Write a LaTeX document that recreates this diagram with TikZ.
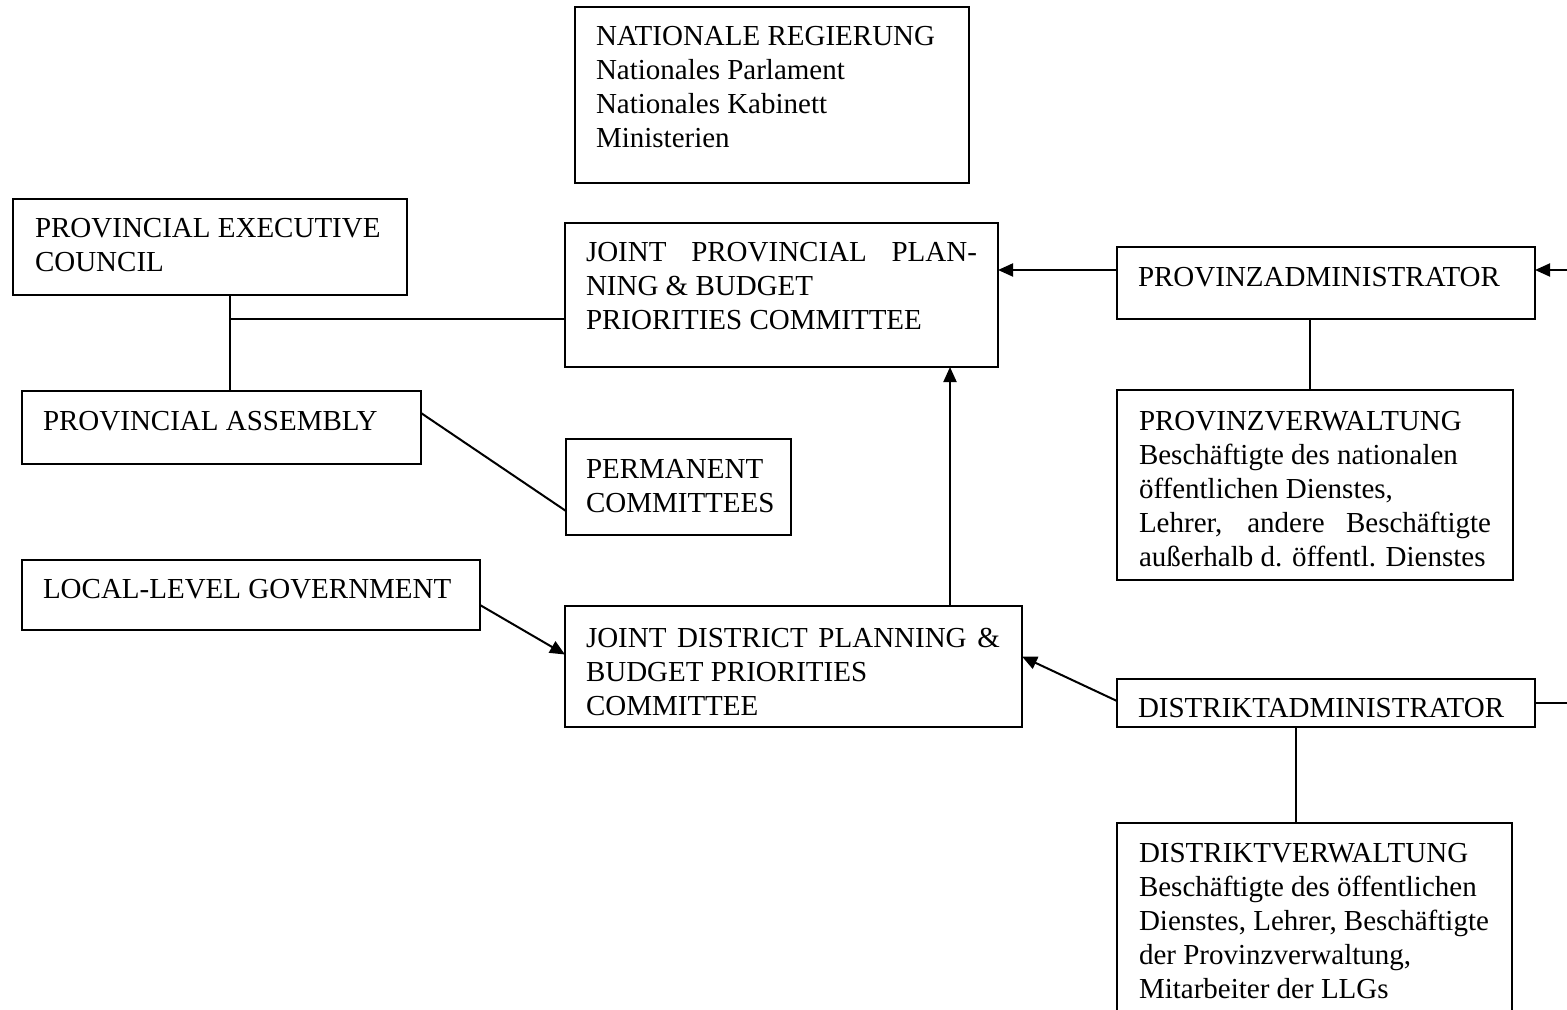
\documentclass[tikz,border=0pt]{standalone}
\usepackage{fontspec}
\setmainfont{Liberation Serif}
\usetikzlibrary{arrows.meta,calc}
\begin{document}
\begin{tikzpicture}[x=0.5pt,y=-0.5pt,
  box/.style={draw, line width=1pt, rectangle, inner sep=0pt, outer sep=0pt, anchor=north west},
  txt/.style={anchor=base west, inner sep=0pt, outer sep=0pt, font=\fontsize{14.5pt}{17pt}\selectfont},
  conn/.style={line width=1pt},
  arr/.style={line width=1pt, -{Triangle[length=7.5pt,width=6.5pt]}}]
\useasboundingbox (0,0) rectangle (1567,1010);
\clip (0,0) rectangle (1567,1010);
\fill[white] (0,0) rectangle (1567,1010);

% boxes
\node[box, minimum width=197pt, minimum height=88pt] (nat) at (575,7) {};
\node[box, minimum width=197pt, minimum height=48pt] (pec) at (13,199) {};
\node[box, minimum width=216.5pt, minimum height=72pt] (jpp) at (565,223) {};
\node[box, minimum width=209pt, minimum height=36pt] (pad) at (1117,247) {};
\node[box, minimum width=199.5pt, minimum height=36.5pt] (pa) at (22,391) {};
\node[box, minimum width=112.5pt, minimum height=48pt] (perm) at (566,439) {};
\node[box, minimum width=198pt, minimum height=95pt] (pvw) at (1117,390) {};
\node[box, minimum width=229pt, minimum height=35pt] (llg) at (22,560) {};
\node[box, minimum width=228.5pt, minimum height=60.5pt] (jd) at (565,606) {};
\node[box, minimum width=209pt, minimum height=24pt] (dad) at (1117,679) {};
\node[box, minimum width=197.5pt, minimum height=110pt] (dvw) at (1117,823) {};

% texts
\node[txt] (natt) at (596,46) {\parbox[t]{190pt}{\raggedright NATIONALE REGIERUNG\\Nationales Parlament\\Nationales Kabinett\\Ministerien}};
\node[txt] (pect) at (35,238) {\parbox[t]{190pt}{\raggedright PROVINCIAL EXECUTIVE\\COUNCIL}};
\node[txt] (jppt) at (586,262) {\parbox[t]{200pt}{\raggedright\makebox[195.5pt][s]{JOINT PROVINCIAL PLAN-}\\NING \& BUDGET\\PRIORITIES COMMITTEE}};
\node[txt] (padt) at (1138,287) {PROVINZADMINISTRATOR};
\node[txt] (pat) at (43,430) {PROVINCIAL ASSEMBLY};
\node[txt] (permt) at (586,478) {\parbox[t]{110pt}{\raggedright PERMANENT\\COMMITTEES}};
\node[txt] (pvwt) at (1139,430) {\parbox[t]{185pt}{\raggedright PROVINZVERWALTUNG\\Beschäftigte des nationalen\\öffentlichen Dienstes,\\\makebox[176pt][s]{Lehrer, andere Beschäftigte}\\außerhalb d. öffentl. Dienstes}};
\node[txt] (llgt) at (43,598) {LOCAL-LEVEL GOVERNMENT};
\node[txt] (jdt) at (586,647) {\parbox[t]{215pt}{\raggedright\makebox[207pt][s]{JOINT DISTRICT PLANNING \&}\\BUDGET PRIORITIES\\COMMITTEE}};
\node[txt] (dadt) at (1138,717) {DISTRIKTADMINISTRATOR};
\node[txt] (dvwt) at (1139,862) {\parbox[t]{190pt}{\raggedright DISTRIKTVERWALTUNG\\Beschäftigte des öffentlichen\\Dienstes, Lehrer, Beschäftigte\\der Provinzverwaltung,\\Mitarbeiter der LLGs}};

% helper coordinates
\coordinate (j1) at (230,319);
\coordinate (ya) at (0,270);
\coordinate (xv) at (950,0);
\coordinate (xp) at (1310,0);
\coordinate (xd) at (1296,0);
\coordinate (redge1) at (1567,270);
\coordinate (redge2) at (1567,703);

% connectors
\draw[conn] (pec.south -| j1) -- (pa.north -| j1);
\draw[conn] (j1) -- (jpp.west |- j1);
\draw[conn] ([yshift=7.25pt]pa.east) -- ([yshift=-12pt]perm.west);
\draw[arr] ([yshift=-5pt]llg.east) -- ([yshift=6pt]jd.west);
\draw[arr] (jd.north -| xv) -- (jpp.south -| xv);
\draw[arr] (pad.west |- ya) -- (jpp.east |- ya);
\draw[arr] (redge1) -- (pad.east |- redge1);
\draw[conn] (pad.south -| xp) -- (pvw.north -| xp);
\draw[arr] ([yshift=1pt]dad.west) -- ([yshift=5pt]jd.east);
\draw[conn] (dad.east |- redge2) -- (redge2);
\draw[conn] (dad.south -| xd) -- (dvw.north -| xd);
\end{tikzpicture}
\end{document}
